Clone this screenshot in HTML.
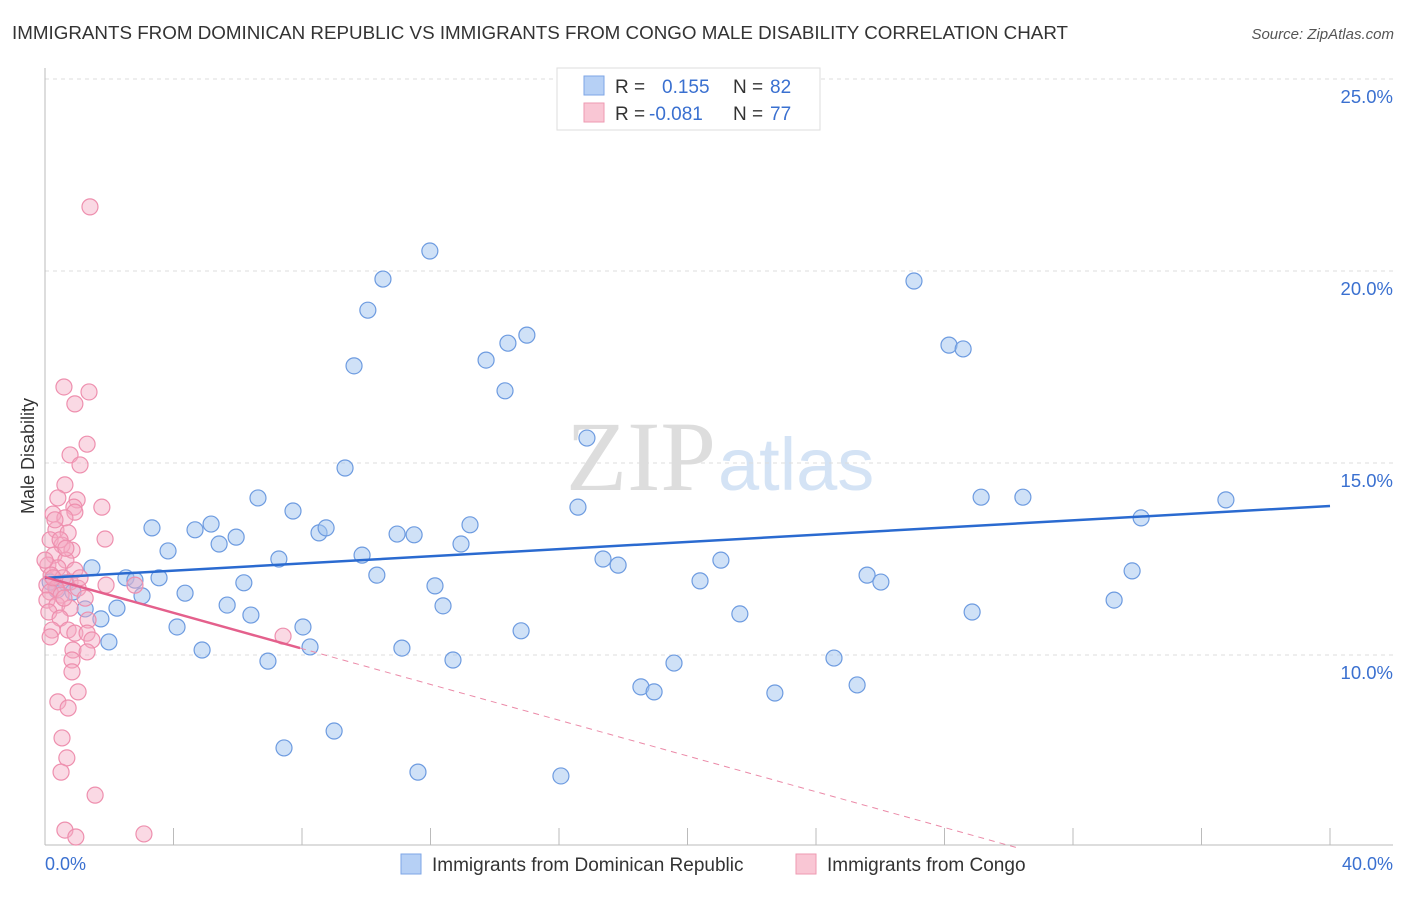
<!DOCTYPE html>
<html><head><meta charset="utf-8"><style>
body{margin:0;background:#fff;font-family:"Liberation Sans",sans-serif;}
</style></head><body>
<svg width="1406" height="892" xmlns="http://www.w3.org/2000/svg" style="font-family:'Liberation Sans',sans-serif">
<text x="12" y="39" font-size="18.8" fill="#333">IMMIGRANTS FROM DOMINICAN REPUBLIC VS IMMIGRANTS FROM CONGO MALE DISABILITY CORRELATION CHART</text>
<text x="1394" y="39" font-size="15" fill="#555" text-anchor="end" font-style="italic">Source: ZipAtlas.com</text>
<text x="716" y="490" font-size="100" fill="#ddd" text-anchor="end" font-family="'Liberation Serif',serif">ZIP</text>
<text x="718" y="490" font-size="74" fill="#d4e3f5">atlas</text>
<g id="grid"></g><g id="axes"></g><g id="pts"></g><g id="lines"></g>
<text transform="translate(34,456) rotate(-90)" font-size="18" fill="#333" text-anchor="middle">Male Disability</text>
<text x="45" y="870" font-size="18" fill="#3a70d0">0.0%</text>
<text x="1393" y="870" font-size="18" fill="#3a70d0" text-anchor="end">40.0%</text>
<g>
<rect x="557" y="68" width="263" height="62" fill="#fff" stroke="#ddd"/>
<rect x="584" y="76" width="20" height="19" fill="#b6d0f5" stroke="#7ea6e6"/>
<rect x="584" y="103" width="20" height="19" fill="#f9c6d4" stroke="#ee9ab2"/>
<text x="615" y="93" font-size="19" fill="#333">R =</text><text x="662" y="93" font-size="19" fill="#3a70d0">0.155</text>
<text x="733" y="93" font-size="19" fill="#333">N =</text><text x="770" y="93" font-size="19" fill="#3a70d0">82</text>
<text x="615" y="120" font-size="19" fill="#333">R =</text><text x="649" y="120" font-size="19" fill="#3a70d0">-0.081</text>
<text x="733" y="120" font-size="19" fill="#333">N =</text><text x="770" y="120" font-size="19" fill="#3a70d0">77</text>
</g>
<g>
<rect x="401" y="854" width="20" height="20" fill="#b6d0f5" stroke="#7ea6e6"/>
<text x="432" y="871" font-size="19" fill="#333">Immigrants from Dominican Republic</text>
<rect x="796" y="854" width="20" height="20" fill="#f9c6d4" stroke="#ee9ab2"/>
<text x="827" y="871" font-size="19" fill="#333">Immigrants from Congo</text>
</g>
</svg>
<script>
const yTicks=[10,15,20,25];
const xTicks=[0,4,8,12,16,20,24,28,32,36,40];
const blueX=[0.65,0.87,1.46,1.74,1.99,2.24,2.52,2.80,3.02,3.33,3.55,3.83,4.11,4.36,4.67,4.89,5.17,5.42,5.67,5.95,6.19,6.41,6.63,6.94,7.28,7.44,7.72,8.03,8.25,8.53,8.75,9.00,9.34,9.62,9.87,10.05,10.33,10.52,10.96,11.11,11.49,11.61,11.98,12.14,12.39,12.70,12.95,13.23,13.73,14.32,14.41,14.82,15.00,16.06,16.59,16.87,17.37,17.84,18.55,18.96,19.58,20.39,21.04,21.63,22.72,24.56,25.28,25.59,26.02,27.05,28.14,28.58,28.86,29.14,30.44,33.28,33.84,34.12,36.76,1.25,0.37,0.16];
const blueY=[11.88,11.64,12.27,10.94,10.34,11.22,12.01,11.95,11.54,13.31,12.01,12.71,10.73,11.61,13.26,10.13,13.41,12.89,11.30,13.07,11.88,11.04,14.09,9.84,12.50,7.58,13.75,10.73,10.21,13.18,13.31,8.02,14.87,17.53,12.60,18.98,12.08,19.79,13.15,10.18,13.13,6.95,20.52,11.80,11.28,9.87,12.89,13.39,17.68,16.88,18.12,10.63,18.33,6.85,13.85,15.65,12.50,12.34,9.17,9.04,9.79,11.93,12.47,11.07,9.01,9.92,9.22,12.08,11.90,19.74,18.07,17.97,11.12,14.11,14.11,11.43,12.19,13.57,14.04,11.20,11.69,11.90];
const pinkX=[1.40,0.59,1.37,0.93,1.31,0.78,1.09,0.62,0.40,1.00,0.90,0.93,1.77,0.25,1.87,0.62,0.34,0.72,0.16,0.53,0.84,0.28,0.65,0.09,0.40,0.93,0.19,0.56,0.78,0.06,0.34,1.03,1.90,0.16,0.50,1.25,0.06,0.37,0.78,0.12,0.47,1.34,0.22,0.72,0.93,1.31,1.46,0.16,0.87,1.31,0.84,0.84,1.03,0.40,0.72,0.53,0.68,0.50,1.56,0.62,0.96,3.08,7.41,2.80,0.47,0.31,0.65,0.00,1.09,0.59,0.25];
const pinkY=[21.67,16.98,16.85,16.54,15.49,15.21,14.95,14.43,14.09,14.04,13.85,13.72,13.85,13.67,13.02,13.57,13.26,13.18,13.00,12.86,12.73,12.60,12.47,12.34,12.27,12.21,12.08,12.01,11.90,11.82,11.74,11.74,11.82,11.64,11.56,11.48,11.43,11.30,11.22,11.12,10.96,10.91,10.65,10.65,10.57,10.57,10.39,10.47,10.13,10.08,9.87,9.56,9.04,8.78,8.62,7.84,7.32,6.95,6.35,5.44,5.26,5.34,10.49,11.82,13.00,13.52,12.78,12.47,12.01,11.48,12.01];
const blueTrend=[[0,12.01],[40,13.88]];
const pinkTrendSolid=[[0,12.03],[7.94,10.18]];
const pinkTrendDash=[[7.94,10.18],[30.35,4.96]];
const X=v=>45+v*32.125, Y=v=>655-(v-10)*38.4;
const NS='http://www.w3.org/2000/svg';
function mk(t,a,p){const e=document.createElementNS(NS,t);for(const k in a)e.setAttribute(k,a[k]);document.getElementById(p).appendChild(e);return e;}
yTicks.forEach(t=>{
 const l=mk('line',{x1:45,x2:1393,y1:Y(t),y2:Y(t),stroke:'#ddd','stroke-dasharray':'4,4'},'grid');
 
 
 const tx=mk('text',{x:1393,y:Y(t)+24,'font-size':18.5,fill:'#3a70d0','text-anchor':'end'},'grid');tx.textContent=t.toFixed(1)+'%';
 
 
});
const ax=mk('line',{x1:45,x2:1393,y1:845,y2:845,stroke:'#bbb'},'axes');


const ay=mk('line',{x1:45,x2:45,y1:68,y2:845,stroke:'#bbb'},'axes');


xTicks.forEach(t=>{const l=mk('line',{x1:X(t),x2:X(t),y1:828,y2:845,stroke:'#bbb'},'axes');
 
 });
blueX.forEach((v,i)=>{const c=mk('circle',{cx:X(v),cy:Y(blueY[i]),r:8,fill:'rgba(160,195,240,0.5)',stroke:'#6d9be0','stroke-width':1.2},'pts');
 
 });
pinkX.forEach((v,i)=>{const c=mk('circle',{cx:X(v),cy:Y(pinkY[i]),r:8,fill:'rgba(245,170,195,0.45)',stroke:'#ee8fae','stroke-width':1.2},'pts');
 
 });
const bl=mk('line',{x1:X(blueTrend[0][0]),y1:Y(blueTrend[0][1]),x2:X(blueTrend[1][0]),y2:Y(blueTrend[1][1]),stroke:'#2a6ad0','stroke-width':2.5},'lines');


const ps=mk('line',{x1:X(pinkTrendSolid[0][0]),y1:Y(pinkTrendSolid[0][1]),x2:X(pinkTrendSolid[1][0]),y2:Y(pinkTrendSolid[1][1]),stroke:'#e4608c','stroke-width':2.5},'lines');


const pd=mk('line',{x1:X(pinkTrendDash[0][0]),y1:Y(pinkTrendDash[0][1]),x2:X(pinkTrendDash[1][0]),y2:Y(pinkTrendDash[1][1]),stroke:'#eb8aa8','stroke-width':1,'stroke-dasharray':'6,5'},'lines');


</script>
</body></html>
